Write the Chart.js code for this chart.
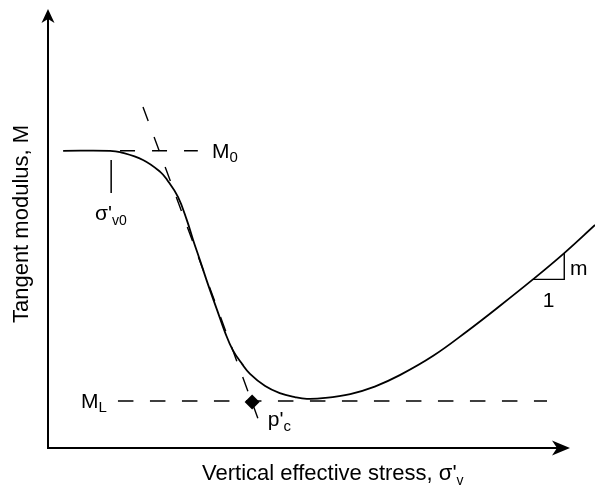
<!DOCTYPE html>
<html>
<head>
<meta charset="utf-8">
<script src="https://cdn.jsdelivr.net/npm/chart.js@4.4.0/dist/chart.umd.min.js"></script>
<style>
  html, body { margin: 0; padding: 0; background: #fff; }
  #wrap { width: 595px; height: 487px; position: relative; }
</style>
</head>
<body>
<div id="wrap"><canvas id="myChart"></canvas></div>
<script>
// schematic curve, x = vertical effective stress, y = tangent modulus (0-100 units)
const stressX  = [2.9, 11.9, 13.8, 18.2, 21.5, 22.8, 24.9, 26.6, 27.8, 29.1, 30.7, 32.4, 33.9, 35.4, 37.2, 38.7, 41.6, 44.4, 47.3, 49.6, 53.1, 57.9, 62.6, 67.4, 73.8, 80.3, 86.6, 92.9, 98.9, 104.8];
const modulusY = [67.7, 67.7, 67.4, 65.6, 62.9, 61.1, 57.2, 51.9, 47.4, 42.8, 37.1, 31.4, 26.4, 22.3, 19.1, 16.9, 14.1, 12.5, 11.6, 11.2, 11.4, 12.3, 14.0, 16.6, 21.0, 26.6, 32.4, 38.4, 44.4, 50.8];

const tangentX = [18.2, 40.2];
const tangentY = [77.7, 6.8];
const m0X = [13.8, 28.7];
const m0Y = [67.7, 67.7];
const mlX = [13.4, 95.6];
const mlY = [10.7, 10.7];
const pcX = [39.1];
const pcY = [10.5];
const sigmaTickX = [12.1, 12.1];
const sigmaTickY = [65.6, 58.1];
const slopeX = [92.9, 98.9, 98.9];
const slopeY = [38.4, 38.4, 44.4];

const FONT = '"Liberation Sans", Arial, Helvetica, sans-serif';

function pts(xs, ys) {
    return xs.map((x, i) => ({ x: x, y: ys[i] }));
}

function arrowHead(ctx, tipX, tipY, dir, len, half, notch) {
    // dir: 'up' or 'right'
    ctx.beginPath();
    if (dir === 'up') {
        ctx.moveTo(tipX, tipY);
        ctx.lineTo(tipX + half, tipY + len);
        ctx.lineTo(tipX, tipY + len - notch);
        ctx.lineTo(tipX - half, tipY + len);
    } else {
        ctx.moveTo(tipX, tipY);
        ctx.lineTo(tipX - len, tipY - half);
        ctx.lineTo(tipX - len + notch, tipY);
        ctx.lineTo(tipX - len, tipY + half);
    }
    ctx.closePath();
    ctx.fill();
}

function subText(ctx, x, y, main, sub, size, subSize, drop) {
    ctx.font = size + 'px ' + FONT;
    ctx.fillText(main, x, y);
    const w = ctx.measureText(main).width;
    ctx.font = subSize + 'px ' + FONT;
    ctx.fillText(sub, x + w, y + drop);
}

const decor = {
    id: 'decor',
    afterDatasetsDraw(chart) {
        const ctx = chart.ctx;
        const xs = chart.scales.x, ys = chart.scales.y;
        const x0 = xs.getPixelForValue(0), x1 = xs.getPixelForValue(100);
        const y0 = ys.getPixelForValue(0), y1 = ys.getPixelForValue(100);
        ctx.save();
        ctx.strokeStyle = '#000';
        ctx.fillStyle = '#000';
        ctx.lineWidth = 2;
        ctx.beginPath();
        ctx.moveTo(x0, y1 + 8);
        ctx.lineTo(x0, y0);
        ctx.lineTo(x1 - 10, y0);
        ctx.stroke();
        arrowHead(ctx, x0, y1, 'up', 14, 6.5, 4);
        arrowHead(ctx, x1, y0, 'right', 18, 7.5, 5);

        ctx.textBaseline = 'alphabetic';
        ctx.textAlign = 'left';
        const px = v => xs.getPixelForValue(v);
        const py = v => ys.getPixelForValue(v);

        subText(ctx, px(31.4), py(67.7) + 7, 'M', '0', 21, 15, 4);
        subText(ctx, px(6.3), py(10.7) + 7, 'M', 'L', 21, 15, 4);
        subText(ctx, px(9.0), py(51.9), 'σ\'', 'v0', 21, 14, 5);
        subText(ctx, px(42.1), py(5.0), 'p\'', 'c', 21, 15, 5);

        ctx.font = '21px ' + FONT;
        ctx.fillText('m', px(100.0), py(39.4));
        ctx.fillText('1', px(94.8), py(32.1));

        // axis titles
        subText(ctx, 202, 480, 'Vertical effective stress, σ\'', 'v', 22, 14, 5);
        ctx.save();
        ctx.translate(28, 224);
        ctx.rotate(-Math.PI / 2);
        ctx.textAlign = 'center';
        ctx.font = '22px ' + FONT;
        ctx.fillText('Tangent modulus, M', 0, 0);
        ctx.restore();
        ctx.restore();
    }
};

const ctx = document.getElementById('myChart').getContext('2d');
const chart = new Chart(ctx, {
    type: 'line',
    data: {
        datasets: [
            { data: pts(stressX, modulusY), borderColor: '#000', borderWidth: 1.8, pointRadius: 0,
              tension: 0.4, clip: false },
            { data: pts(tangentX, tangentY), borderColor: '#000', borderWidth: 1.4, pointRadius: 0,
              borderDash: [15, 17], tension: 0 },
            { data: pts(m0X, m0Y), borderColor: '#000', borderWidth: 1.4, pointRadius: 0,
              borderDash: [15, 17], tension: 0 },
            { data: pts(mlX, mlY), borderColor: '#000', borderWidth: 1.4, pointRadius: 0,
              borderDash: [15.5, 16.5], tension: 0 },
            { data: pts(sigmaTickX, sigmaTickY), borderColor: '#000', borderWidth: 1.5, pointRadius: 0, tension: 0 },
            { data: pts(slopeX, slopeY), borderColor: '#000', borderWidth: 1.4, pointRadius: 0, tension: 0 },
            { data: pts(pcX, pcY), showLine: false, pointStyle: 'rectRot', pointRadius: 7.5,
              pointBackgroundColor: '#000', pointBorderColor: '#000', borderWidth: 0 }
        ]
    },
    options: {
        responsive: true,
        maintainAspectRatio: false,
        animation: false,
        layout: { padding: { left: 48, top: 9, right: 25, bottom: 39 } },
        plugins: { legend: { display: false }, tooltip: { enabled: false } },
        scales: {
            x: { type: 'linear', min: 0, max: 100, display: false },
            y: { type: 'linear', min: 0, max: 100, display: false }
        }
    },
    plugins: [decor]
});
</script>
</body>
</html>
